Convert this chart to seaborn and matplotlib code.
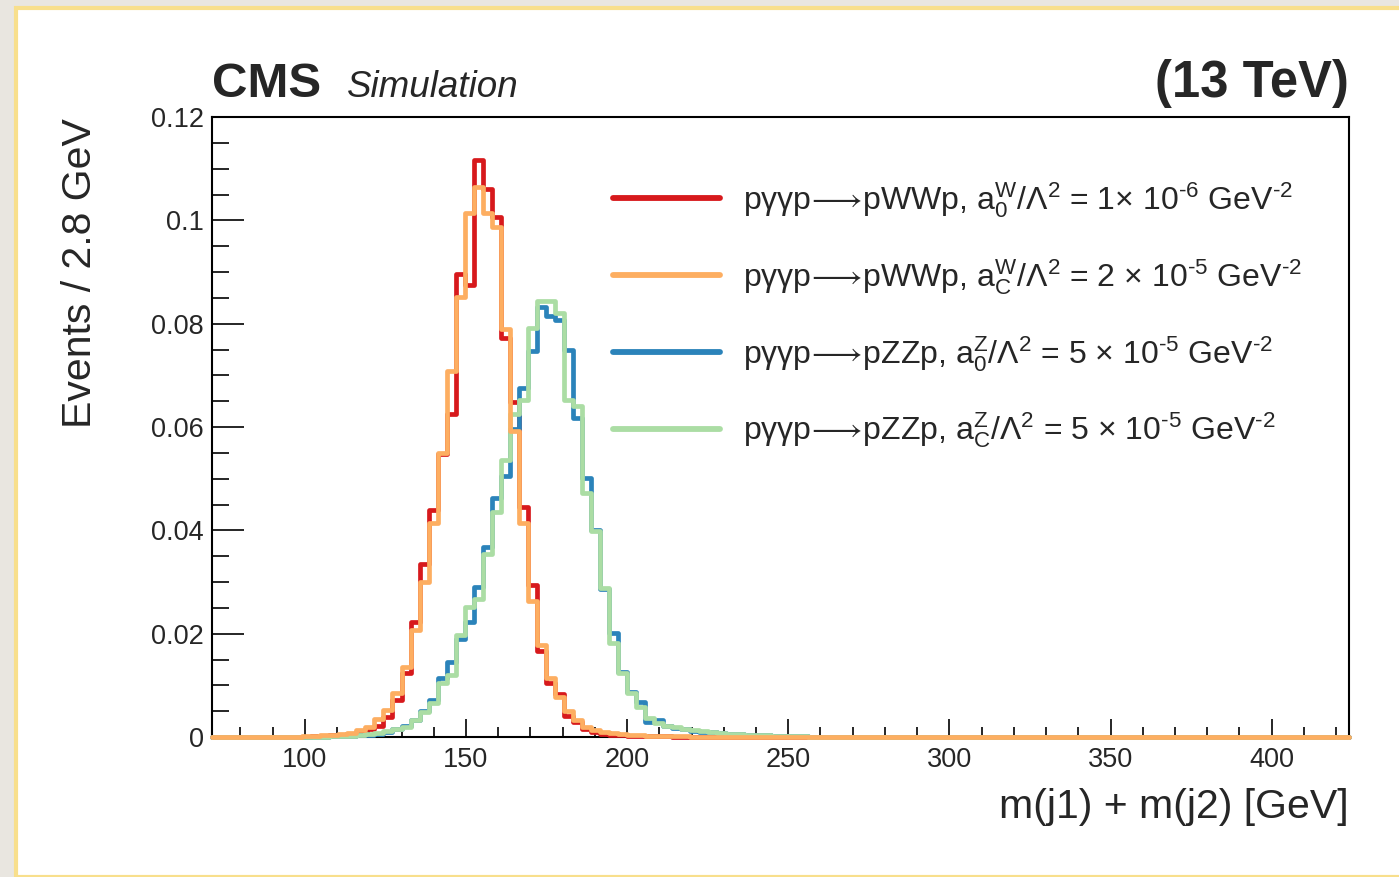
import numpy as np
import pandas as pd
import matplotlib
matplotlib.use("Agg")
import matplotlib.pyplot as plt
import seaborn as sns
from matplotlib.ticker import MultipleLocator, FuncFormatter
from matplotlib.lines import Line2D
from matplotlib.patches import Rectangle

# ---------------- data ----------------
bin_width = 2.8
x_min, x_max = 71.2, 424.0
n_bins = 126
first_bin = 10  # index of the first listed bin (lower edge 99.2 GeV)

ww_a0 = [0.0000, 0.0001, 0.0002, 0.0003, 0.0004, 0.0006, 0.0010, 0.0015, 0.0021, 0.0039,
         0.0072, 0.0124, 0.0223, 0.0335, 0.0440, 0.0548, 0.0625, 0.0896, 0.0874, 0.1117,
         0.1060, 0.1006, 0.0773, 0.0649, 0.0445, 0.0294, 0.0166, 0.0105, 0.0084, 0.0040,
         0.0030, 0.0015, 0.0009, 0.0006, 0.0004, 0.0003, 0.0002, 0.0002, 0.0001, 0.0001,
         0.0001]
ww_ac = [0.0001, 0.0002, 0.0003, 0.0004, 0.0006, 0.0008, 0.0013, 0.0020, 0.0034, 0.0052,
         0.0085, 0.0136, 0.0207, 0.0300, 0.0414, 0.0549, 0.0709, 0.0852, 0.1015, 0.1065,
         0.1014, 0.0988, 0.0790, 0.0592, 0.0414, 0.0264, 0.0178, 0.0114, 0.0077, 0.0050,
         0.0033, 0.0020, 0.0013, 0.0009, 0.0007, 0.0005, 0.0004, 0.0003, 0.0002, 0.0002,
         0.0001, 0.0001, 0.0001]
zz_a0 = [0.0000, 0.0000, 0.0000, 0.0001, 0.0001, 0.0002, 0.0003, 0.0004, 0.0006, 0.0010,
         0.0016, 0.0022, 0.0032, 0.0050, 0.0072, 0.0114, 0.0146, 0.0190, 0.0223, 0.0290,
         0.0368, 0.0462, 0.0505, 0.0597, 0.0675, 0.0748, 0.0832, 0.0814, 0.0808, 0.0749,
         0.0617, 0.0501, 0.0400, 0.0286, 0.0201, 0.0125, 0.0087, 0.0068, 0.0030, 0.0033,
         0.0022, 0.0018, 0.0015, 0.0012, 0.0010, 0.0009, 0.0007, 0.0006, 0.0005, 0.0004,
         0.0003, 0.0003, 0.0002, 0.0002, 0.0001, 0.0001]
zz_ac = [0.0000, 0.0000, 0.0000, 0.0001, 0.0001, 0.0002, 0.0003, 0.0005, 0.0008, 0.0012,
         0.0015, 0.0020, 0.0033, 0.0049, 0.0066, 0.0104, 0.0120, 0.0197, 0.0252, 0.0268,
         0.0354, 0.0436, 0.0537, 0.0626, 0.0652, 0.0791, 0.0843, 0.0843, 0.0820, 0.0653,
         0.0640, 0.0472, 0.0399, 0.0289, 0.0181, 0.0123, 0.0085, 0.0059, 0.0036, 0.0027,
         0.0021, 0.0019, 0.0016, 0.0013, 0.0011, 0.0009, 0.0008, 0.0006, 0.0005, 0.0004,
         0.0003, 0.0003, 0.0002, 0.0002, 0.0001, 0.0001]

labels = [
    r"pγγp$\!\longrightarrow\!$pWWp, a$_{0}^{\mathrm{W}}$/Λ$^{2}$ = 1× 10$^{\text{-6}}$ GeV$^{\text{-2}}$",
    r"pγγp$\!\longrightarrow\!$pWWp, a$_{\mathrm{C}}^{\mathrm{W}}$/Λ$^{2}$ = 2 × 10$^{\text{-5}}$ GeV$^{\text{-2}}$",
    r"pγγp$\!\longrightarrow\!$pZZp, a$_{0}^{\mathrm{Z}}$/Λ$^{2}$ = 5 × 10$^{\text{-5}}$ GeV$^{\text{-2}}$",
    r"pγγp$\!\longrightarrow\!$pZZp, a$_{\mathrm{C}}^{\mathrm{Z}}$/Λ$^{2}$ = 5 × 10$^{\text{-5}}$ GeV$^{\text{-2}}$",
]
colors = ["#d7191c", "#fdae61", "#2b83ba", "#abdda4"]
series = [ww_a0, ww_ac, zz_a0, zz_ac]
zorders = [3, 6, 4, 5]

# ---------------- style ----------------
sns.set_theme(style="ticks")
plt.rcParams["font.family"] = ["Liberation Sans", "DejaVu Sans"]
plt.rcParams["mathtext.fontset"] = "custom"
plt.rcParams["mathtext.rm"] = "Liberation Sans"
plt.rcParams["mathtext.it"] = "Liberation Sans:italic"
plt.rcParams["mathtext.bf"] = "Liberation Sans:bold"
plt.rcParams["mathtext.sf"] = "Liberation Sans"
plt.rcParams["mathtext.fallback"] = "stixsans"

fig = plt.figure(figsize=(13.99, 8.77), dpi=100)
W, H = 1399, 877

# slide-like frame around the plot
fig.patches.append(Rectangle((0, 0), 1, 1, transform=fig.transFigure,
                             facecolor="#e9e6e0", edgecolor="none", zorder=-10))
fig.patches.append(Rectangle((16 / W, 0), 1, 1 - 8 / H, transform=fig.transFigure,
                             facecolor="white", edgecolor="#f8df8c", linewidth=3, zorder=-9))

ax = fig.add_axes([212 / W, 1 - 737 / H, (1349 - 212) / W, (737 - 117) / H])

edges = x_min + bin_width * np.arange(n_bins + 1)
centers = edges[:-1] + bin_width / 2
for vals, c, z in zip(series, colors, zorders):
    full = np.zeros(n_bins)
    full[first_bin:first_bin + len(vals)] = vals
    df = pd.DataFrame({"m": centers, "w": full})
    sns.histplot(data=df, x="m", weights="w", bins=n_bins, binrange=(x_min, x_max),
                 element="step", fill=False,
                 color=c, linewidth=3.4, ax=ax, zorder=z, clip_on=False)

ax.set_xlim(x_min, x_max)
ax.set_ylim(0, 0.12)
ax.set_xlabel("")
ax.set_ylabel("")

ax.xaxis.set_major_locator(MultipleLocator(50))
ax.xaxis.set_minor_locator(MultipleLocator(10))
ax.yaxis.set_major_locator(MultipleLocator(0.02))
ax.yaxis.set_minor_locator(MultipleLocator(0.005))
ax.yaxis.set_major_formatter(FuncFormatter(lambda v, p: "0" if abs(v) < 1e-9 else "%g" % v))

for s in ax.spines.values():
    s.set_linewidth(1.5)
    s.set_color("black")
    s.set_visible(True)

ax.tick_params(axis="x", which="major", direction="in", length=13, width=1.4,
               labelsize=19.5, pad=7, top=False)
ax.tick_params(axis="x", which="minor", direction="in", length=7, width=1.4, top=False)
ax.tick_params(axis="y", which="major", direction="in", length=23, width=1.4,
               labelsize=19.5, pad=6, right=False)
ax.tick_params(axis="y", which="minor", direction="in", length=12, width=1.4, right=False)

# axis titles
fig.text(80 / W, 1 - 118 / H, "Events / 2.8 GeV", rotation=90, ha="center", va="top",
         fontsize=29.5)
fig.text(1349 / W, 1 - 818 / H, "m(j1) + m(j2) [GeV]", ha="right", va="baseline",
         fontsize=29.5)

# CMS header
fig.text(212 / W, 1 - 97 / H, "CMS", ha="left", va="baseline", fontsize=35.5,
         fontweight="bold")
fig.text(347 / W, 1 - 97 / H, "Simulation", ha="left", va="baseline", fontsize=26.5,
         fontstyle="italic")
fig.text(1349 / W, 1 - 97 / H, "(13 TeV)", ha="right", va="baseline", fontsize=36.5,
         fontweight="bold")

handles = [Line2D([], [], color=c, linewidth=4.2) for c in colors]
ax.legend(handles, labels, loc="upper left", bbox_to_anchor=(613 / W, 1 - 180 / H),
          bbox_transform=fig.transFigure, frameon=False, fontsize=23,
          handlelength=3.35, handletextpad=0.72, labelspacing=1.16,
          borderpad=0, borderaxespad=0)

fig.savefig("out.png", dpi=100)
